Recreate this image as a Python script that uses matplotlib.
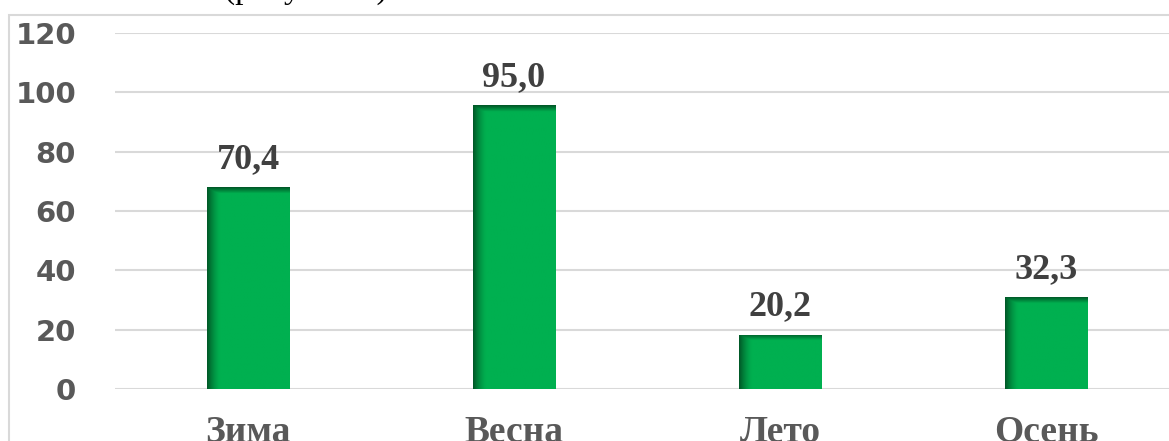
import matplotlib

matplotlib.use("Agg")

import matplotlib.pyplot as plt
import numpy as np
from matplotlib.patches import Rectangle

# data
seasons = ["Зима", "Весна", "Лето", "Осень"]
bar_heights = [68.0, 95.7, 18.3, 31.0]
value_labels = ["70,4", "95,0", "20,2", "32,3"]
y_ticks = [0, 20, 40, 60, 80, 100, 120]

W, H = 1169, 441
fig = plt.figure(figsize=(W / 100, H / 100), dpi=100)

# chart frame (light gray border, runs off right/bottom edge)
fig.patches.append(Rectangle((9 / W, -0.1), 1.2, (H - 15) / H + 0.1,
                             transform=fig.transFigure, fill=False,
                             edgecolor="#d9d9d9", linewidth=1.5))

# cut-off caption line above the chart
fig.text(306 / W, 1 + 2.5 / H, "(рисунок 1)", family="Liberation Serif",
         fontsize=24, color="black", ha="center", va="baseline")

ax = fig.add_axes([115 / W, 52 / H, 1064 / W, 356 / H])
ax.set_ylim(0, 120)
ax.set_xlim(-0.5, 3.5)
ax.set_yticks(y_ticks)
ax.grid(axis="y", color="#d9d9d9", linewidth=1.5)
ax.set_axisbelow(True)
for s in ax.spines.values():
    s.set_visible(False)
ax.tick_params(length=0)
ax.tick_params(axis="y", pad=28, labelsize=21, labelcolor="#595959")
for t in ax.get_yticklabels():
    t.set_fontweight("bold")
    t.set_family("DejaVu Sans")

x = np.arange(len(seasons))
bw = 0.31
bars = ax.bar(x, bar_heights, width=bw, color="#00b050", zorder=2)

# darker inner shading on the left and top edges of each bar
base = np.array([0x00, 0xb0, 0x50]) / 255
dark = np.array([0x00, 0x5a, 0x28]) / 255
for rect in bars:
    x0 = rect.get_x()
    h = rect.get_height()
    nx, ny = 80, 200
    u = np.linspace(0, 1, nx)[None, :]
    v = np.linspace(0, 1, ny)[:, None]  # 0 at top
    top_px = v * h * 2.975
    left = np.clip(1 - u / 0.16, 0, 1) ** 1.5
    top = np.clip(1 - top_px / 6, 0, 1)
    k = np.maximum(left, top)[..., None]
    img = base * (1 - k) + dark * k
    im = ax.imshow(img, extent=(x0, x0 + bw, 0, h), aspect="auto",
                   origin="upper", zorder=3, interpolation="bilinear")
    im.set_clip_path(rect)

ax.set_xlim(-0.5, 3.5)
ax.set_ylim(0, 120)

for xi, h, lab in zip(x, bar_heights, value_labels):
    ax.annotate(lab, (xi, h), xytext=(0, 8), textcoords="offset points",
                ha="center", va="bottom", fontsize=26, fontweight="bold",
                family="Liberation Serif", color="#404040")

ax.set_xticks(x)
ax.set_xticklabels(seasons, fontsize=27, fontweight="bold",
                   family="Liberation Serif", color="#595959")
ax.tick_params(axis="x", pad=19)

fig.savefig("out.png", dpi=100)
